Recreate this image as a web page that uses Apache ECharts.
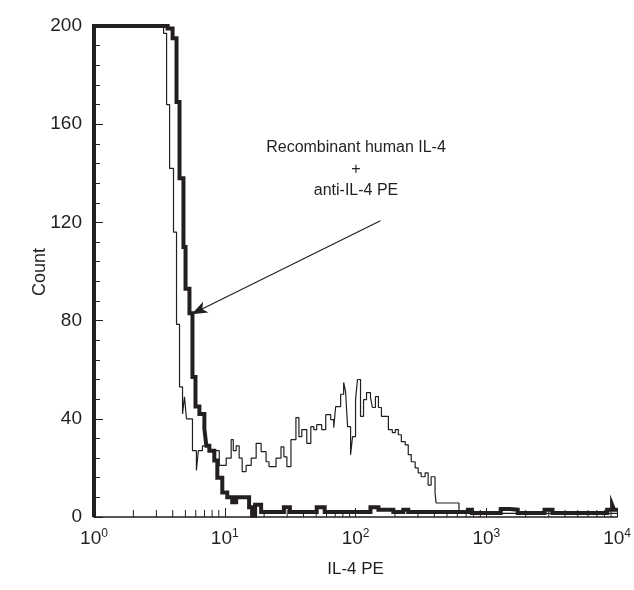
<!DOCTYPE html>
<html>
<head>
<meta charset="utf-8">
<script src="https://cdn.jsdelivr.net/npm/echarts@6/dist/echarts.min.js"></script>
<style>
  html, body { margin: 0; padding: 0; background: #fff; }
  #main { width: 634px; height: 590px; }
</style>
</head>
<body>
<div id="main"></div>
<script>
// x values are in decades (log10 of IL-4 PE intensity), y is count
var thickLine = [
  [0, 0], [0, 200], [0.563, 199], [0.601, 195], [0.631, 169], [0.654, 138],
  [0.684, 110], [0.700, 93], [0.730, 83], [0.753, 57], [0.776, 45], [0.806, 42],
  [0.844, 36], [0.859, 29], [0.882, 27], [0.920, 23], [0.943, 16], [0.981, 10],
  [1.019, 8], [1.057, 6], [1.087, 8], [1.186, 4], [1.209, 0.5], [1.232, 5],
  [1.278, 2], [1.452, 4], [1.498, 2], [1.703, 4], [1.764, 2], [2.114, 4],
  [2.175, 3], [2.289, 2], [2.365, 3], [2.403, 2], [2.859, 3], [2.890, 1.6],
  [3.110, 3.3], [3.179, 3], [3.240, 1.6], [3.445, 3], [3.506, 1.6], [3.924, 3],
  [3.962, 5], [3.977, 3], [4.0, 3]
];

var thinLine = [
  [0, 0], [0, 200], [0.532, 197], [0.555, 168], [0.578, 142], [0.608, 116],
  [0.631, 78.5], [0.654, 53], [0.677, 42], [0.692, 49], [0.707, 40], [0.753, 27],
  [0.783, 19], [0.798, 27], [0.829, 29], [0.882, 27], [0.958, 21], [1.011, 24],
  [1.049, 31.5], [1.065, 27], [1.087, 29], [1.110, 24], [1.133, 18.5], [1.163, 21],
  [1.202, 24], [1.240, 30], [1.278, 26.6], [1.316, 22.5], [1.338, 20.5], [1.392, 24],
  [1.430, 28.6], [1.452, 24.5], [1.475, 20.5], [1.506, 31.5], [1.544, 40.5], [1.567, 32.7],
  [1.589, 35.6], [1.627, 30], [1.658, 36.8], [1.681, 35.6], [1.703, 37.6], [1.741, 35.6],
  [1.772, 41.7], [1.810, 39.7], [1.833, 36.4], [1.848, 45], [1.886, 50], [1.909, 54.8],
  [1.924, 51], [1.939, 36.8], [1.962, 25.4], [1.977, 32.7], [2.000, 47.8], [2.015, 56],
  [2.038, 41], [2.061, 47.8], [2.084, 50.7], [2.114, 48.7], [2.129, 44.6], [2.152, 49],
  [2.175, 44.6], [2.198, 41], [2.251, 35.6], [2.281, 34.4], [2.304, 35.6], [2.327, 33.5],
  [2.350, 30.7], [2.380, 29.4], [2.403, 25.4], [2.426, 22.5], [2.456, 20], [2.479, 18],
  [2.502, 16.4], [2.532, 18], [2.555, 13], [2.578, 16.4], [2.608, 9.8], [2.616, 5.7],
  [2.791, 1.5], [4.0, 1.5]
];

var xDecades = [0, 1, 2, 3, 4];
var yTicks = [0, 40, 80, 120, 160, 200];
var noteLines = ['Recombinant human IL-4', '+', 'anti-IL-4 PE'];

// minor log ticks (2..9 within each decade)
var minorTicks = [];
for (var d = 0; d < 4; d++) {
  for (var k = 2; k <= 9; k++) minorTicks.push(d + Math.log10(k));
}

var ink = '#231f20';
var font = '"Liberation Sans", Arial, Helvetica, sans-serif';

var chart = echarts.init(document.getElementById('main'));

var graphics = noteLines.map(function (t, i) {
  return {
    type: 'text',
    x: 356,
    y: 148 + i * 21.5,
    style: { text: t, textAlign: 'center', textVerticalAlign: 'middle', fill: ink, fontSize: 16, fontFamily: font }
  };
});
// y axis title
graphics.push({
  type: 'text',
  x: 40,
  y: 272,
  rotation: Math.PI / 2,
  style: { text: 'Count', textAlign: 'center', textVerticalAlign: 'middle', fill: ink, fontSize: 18, fontFamily: font }
});

var option = {
  animation: false,
  backgroundColor: '#fff',
  grid: { left: 94, right: 14, top: 26, bottom: 73 },
  xAxis: {
    type: 'value',
    min: xDecades[0],
    max: xDecades[xDecades.length - 1],
    interval: 1,
    name: 'IL-4 PE',
    nameLocation: 'middle',
    nameGap: 44,
    nameTextStyle: { color: ink, fontSize: 17, fontFamily: font },
    axisLine: { lineStyle: { color: ink, width: 1.5 } },
    axisTick: { inside: true, length: 9, lineStyle: { color: ink, width: 1 } },
    splitLine: { show: false },
    axisLabel: {
      margin: 11,
      formatter: function (v) { return '{b|10}{s|' + v + '}'; },
      rich: {
        b: { fontSize: 19, color: ink, fontFamily: font },
        s: { fontSize: 12, color: ink, fontFamily: font, verticalAlign: 'top', padding: [0, 0, 10, 0] }
      }
    }
  },
  yAxis: {
    type: 'value',
    min: 0,
    max: 200,
    interval: 40,
    axisLine: { show: true, lineStyle: { color: ink, width: 1.5 } },
    axisTick: { inside: true, length: 9, lineStyle: { color: ink, width: 1 } },
    minorTick: { show: true, splitNumber: 5, length: 6, lineStyle: { color: ink, width: 1 } },
    splitLine: { show: false },
    axisLabel: {
      margin: 12, color: ink, fontSize: 19, fontFamily: font,
      formatter: function (v) { return yTicks.indexOf(v) >= 0 ? String(v) : ''; }
    }
  },
  graphic: graphics,
  series: [
    {
      type: 'custom',
      silent: true,
      z: 1,
      data: minorTicks.map(function (v) { return [v, 0]; }),
      renderItem: function (params, api) {
        var p = api.coord([api.value(0), 0]);
        return {
          type: 'line',
          shape: { x1: p[0], y1: p[1], x2: p[0], y2: p[1] - 7 },
          style: { stroke: ink, lineWidth: 1 }
        };
      }
    },
    {
      name: 'thin',
      type: 'line',
      step: 'end',
      data: thinLine,
      showSymbol: false,
      silent: true,
      z: 3,
      lineStyle: { color: ink, width: 1.2 },
      markLine: {
        silent: true,
        symbol: ['none', 'arrow'],
        symbolSize: [9, 16],
        label: { show: false },
        lineStyle: { color: ink, width: 1.2, type: 'solid' },
        data: [[{ coord: [2.19, 120.7] }, { coord: [0.745, 82.6] }]]
      }
    },
    {
      name: 'thick',
      type: 'line',
      step: 'end',
      data: thickLine,
      showSymbol: false,
      silent: true,
      z: 4,
      lineStyle: { color: ink, width: 4, join: 'miter' }
    }
  ]
};

chart.setOption(option);
</script>
</body>
</html>
